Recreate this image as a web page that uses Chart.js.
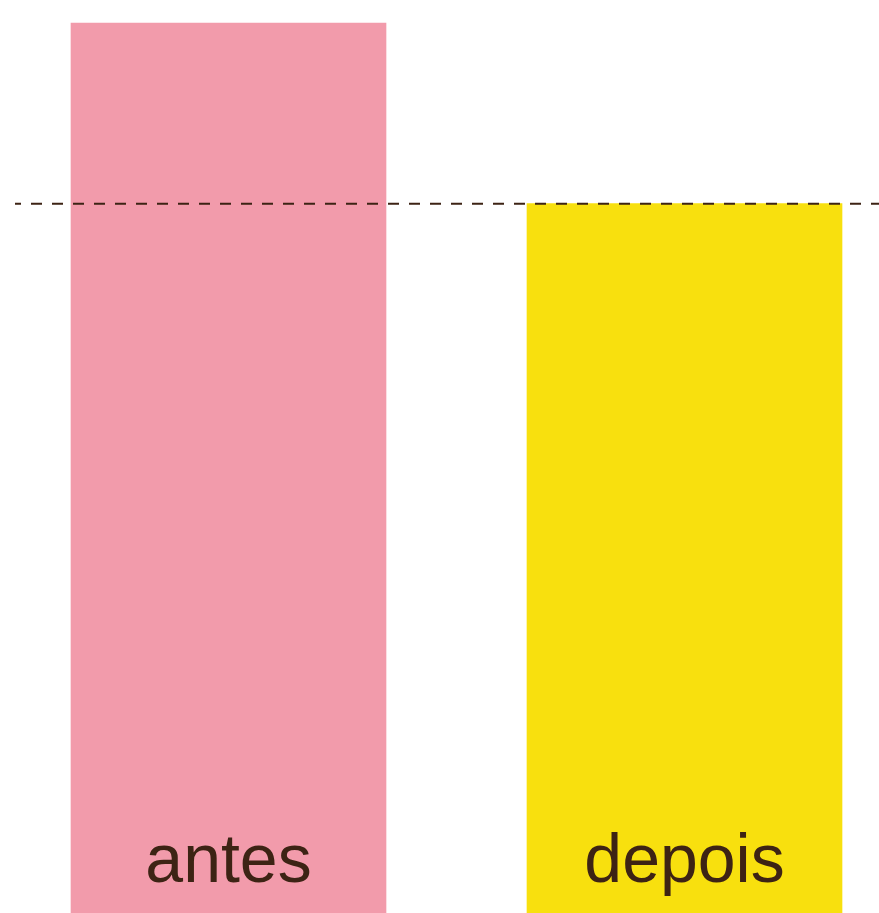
<!DOCTYPE html>
<html>
<head>
<meta charset="utf-8">
<script src="https://cdn.jsdelivr.net/npm/chart.js@4"></script>
<style>
html,body{margin:0;padding:0;background:#fff;}
#wrap{width:879px;height:913px;position:relative;}
</style>
</head>
<body>
<div id="wrap"><canvas id="c"></canvas></div>
<script>
const categories = ["antes", "depois"];
const values = [100, 79.7];
const referenceValue = 79.7;
const barColors = ["#F29BAB", "#F8E00E"];
const textColor = "#3D2314";

const barData = categories.map((c, i) => ({ x: i, y: values[i] }));
const refData = [{ x: -0.4682, y: referenceValue }, { x: 1.45, y: referenceValue }];

const labelPlugin = {
  id: 'insideLabels',
  afterDatasetsDraw(chart) {
    const ctx = chart.ctx;
    const meta = chart.getDatasetMeta(1);
    ctx.save();
    ctx.font = '68px "Liberation Sans", Arial, sans-serif';
    ctx.fillStyle = textColor;
    ctx.textAlign = 'center';
    ctx.textBaseline = 'alphabetic';
    meta.data.forEach((el, i) => {
      ctx.fillText(categories[i], el.x, chart.chartArea.bottom - 31);
    });
    ctx.restore();
  }
};

new Chart(document.getElementById('c'), {
  type: 'bar',
  data: {
    datasets: [
      {
        type: 'line',
        data: refData,
        borderColor: textColor,
        borderWidth: 2,
        borderDash: [11, 10],
        borderDashOffset: 5,
        pointRadius: 0,
        fill: false,
        clip: 0,
        order: 0
      },
      {
        type: 'bar',
        data: barData,
        backgroundColor: barColors,
        borderWidth: 0,
        barThickness: 315,
        order: 1
      }
    ]
  },
  options: {
    responsive: true,
    maintainAspectRatio: false,
    animation: false,
    layout: { padding: 0 },
    plugins: { legend: { display: false }, tooltip: { enabled: false } },
    scales: {
      x: { type: 'linear', display: false, offset: false, min: -0.5011, max: 1.42653, grid: { display: false } },
      y: { display: false, min: 0, max: 102.58, grid: { display: false } }
    }
  },
  plugins: [labelPlugin]
});
</script>
</body>
</html>
